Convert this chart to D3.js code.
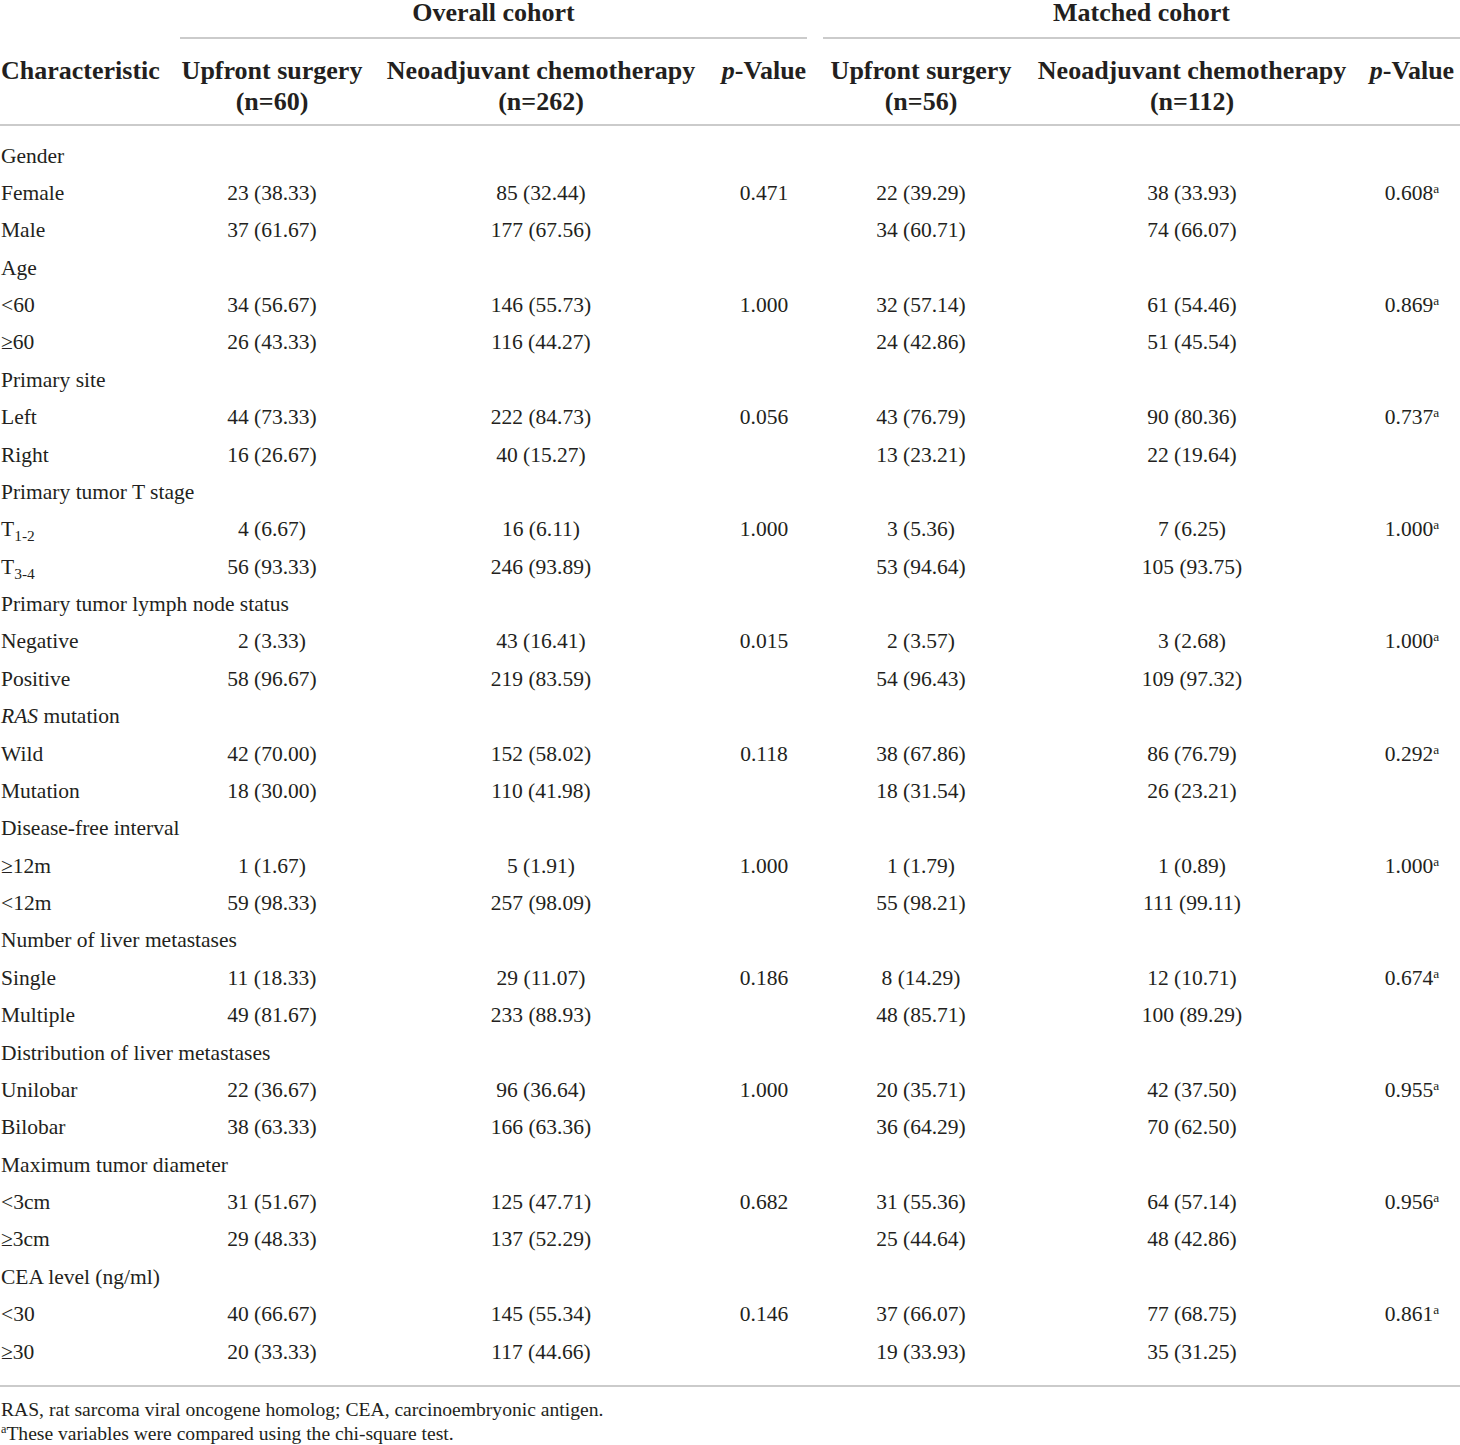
<!doctype html><html><head><meta charset="utf-8"></head><body style="margin:0;background:#fff"><script src='https://d3js.org/d3.v7.min.js'></script>

<style>
	svg text {
		fill: #231f20;
		font-family: "Liberation Serif", "Times New Roman", serif;
	}
	svg .head {
		font-size: 26px;
		font-weight: bold;
	}
	svg .cell {
		font-size: 21.5px;
	}
	svg .note {
		font-size: 19.6px;
	}
	svg line {
		stroke: #cbcbcb;
		stroke-width: 2;
	}
</style>

<script>
  // row labels: *x* italic, a|b subscript
  var labels = ["Gender", "Female", "Male", "Age", "<60", "\u226560", "Primary site", "Left", "Right",
    "Primary tumor T stage", "T|1-2", "T|3-4", "Primary tumor lymph node status", "Negative", "Positive",
    "*RAS* mutation", "Wild", "Mutation", "Disease-free interval", "\u226512m", "<12m",
    "Number of liver metastases", "Single", "Multiple", "Distribution of liver metastases", "Unilobar", "Bilobar",
    "Maximum tumor diameter", "<3cm", "\u22653cm", "CEA level (ng/ml)", "<30", "\u226530"];

  var upfrontOverall = ["", "23 (38.33)", "37 (61.67)", "", "34 (56.67)", "26 (43.33)", "", "44 (73.33)", "16 (26.67)",
    "", "4 (6.67)", "56 (93.33)", "", "2 (3.33)", "58 (96.67)", "", "42 (70.00)", "18 (30.00)", "", "1 (1.67)", "59 (98.33)",
    "", "11 (18.33)", "49 (81.67)", "", "22 (36.67)", "38 (63.33)", "", "31 (51.67)", "29 (48.33)", "", "40 (66.67)", "20 (33.33)"];
  var neoOverall = ["", "85 (32.44)", "177 (67.56)", "", "146 (55.73)", "116 (44.27)", "", "222 (84.73)", "40 (15.27)",
    "", "16 (6.11)", "246 (93.89)", "", "43 (16.41)", "219 (83.59)", "", "152 (58.02)", "110 (41.98)", "", "5 (1.91)", "257 (98.09)",
    "", "29 (11.07)", "233 (88.93)", "", "96 (36.64)", "166 (63.36)", "", "125 (47.71)", "137 (52.29)", "", "145 (55.34)", "117 (44.66)"];
  var pOverall = ["", "0.471", "", "", "1.000", "", "", "0.056", "", "", "1.000", "", "", "0.015", "", "", "0.118", "", "", "1.000", "",
    "", "0.186", "", "", "1.000", "", "", "0.682", "", "", "0.146", ""];
  var upfrontMatched = ["", "22 (39.29)", "34 (60.71)", "", "32 (57.14)", "24 (42.86)", "", "43 (76.79)", "13 (23.21)",
    "", "3 (5.36)", "53 (94.64)", "", "2 (3.57)", "54 (96.43)", "", "38 (67.86)", "18 (31.54)", "", "1 (1.79)", "55 (98.21)",
    "", "8 (14.29)", "48 (85.71)", "", "20 (35.71)", "36 (64.29)", "", "31 (55.36)", "25 (44.64)", "", "37 (66.07)", "19 (33.93)"];
  var neoMatched = ["", "38 (33.93)", "74 (66.07)", "", "61 (54.46)", "51 (45.54)", "", "90 (80.36)", "22 (19.64)",
    "", "7 (6.25)", "105 (93.75)", "", "3 (2.68)", "109 (97.32)", "", "86 (76.79)", "26 (23.21)", "", "1 (0.89)", "111 (99.11)",
    "", "12 (10.71)", "100 (89.29)", "", "42 (37.50)", "70 (62.50)", "", "64 (57.14)", "48 (42.86)", "", "77 (68.75)", "35 (31.25)"];
  var pMatched = ["", "0.608^a", "", "", "0.869^a", "", "", "0.737^a", "", "", "1.000^a", "", "", "1.000^a", "", "", "0.292^a", "", "", "1.000^a", "",
    "", "0.674^a", "", "", "0.955^a", "", "", "0.956^a", "", "", "0.861^a", ""];

  var groups = ["Overall cohort", "Matched cohort"];
  var colKeys = ["uo", "no", "po", "um", "nm", "pm"];
  var colHeads = [["Upfront surgery", "(n=60)"], ["Neoadjuvant chemotherapy", "(n=262)"], ["*p*-Value", ""],
    ["Upfront surgery", "(n=56)"], ["Neoadjuvant chemotherapy", "(n=112)"], ["*p*-Value", ""]];
  var notes = ["RAS, rat sarcoma viral oncogene homolog; CEA, carcinoembryonic antigen.",
    "^a^These variables were compared using the chi-square test."];

  var width = 1460, height = 1445;

  var x = d3.scaleOrdinal().domain(colKeys).range([272, 541, 764, 921, 1192, 1412]);
  var groupX = d3.scaleOrdinal().domain(groups).range([[180, 807], [823, 1460]]);
  var y = d3.scaleLinear().domain([0, labels.length - 1]).range([155, 1351]);

  var svg = d3.select("body").append("svg")
    .attr("width", width)
    .attr("height", height);

  // writes text with *italic*, |subscript and ^super^ markup
  function rich(sel, str) {
    if (str.indexOf("|") >= 0) {
      var parts = str.split("|");
      sel.append("tspan").text(parts[0]);
      sel.append("tspan").attr("font-size", "0.72em").attr("baseline-shift", "-0.3em").text(parts[1]);
      return;
    }
    var bits = str.split(/(\*[^*]+\*|\^[^^]+\^?)/).filter(function(b) { return b !== ""; });
    bits.forEach(function(b) {
      if (b[0] == "*") {
        sel.append("tspan").attr("font-style", "italic").text(b.slice(1, -1));
      } else if (b[0] == "^") {
        sel.append("tspan").attr("font-size", "0.62em").attr("baseline-shift", "0.55em").text(b.replace(/\^/g, ""));
      } else {
        sel.append("tspan").text(b);
      }
    });
  }

  // group headings
  svg.selectAll(".grp")
    .data(groups)
    .enter()
    .append("text")
    .attr("class", "head")
    .attr("x", function(d) { return d3.mean(groupX(d)); })
    .attr("y", 21)
    .attr("text-anchor", "middle")
    .text(function(d) { return d; });

  svg.selectAll(".grpline")
    .data(groups)
    .enter()
    .append("line")
    .attr("x1", function(d) { return groupX(d)[0]; })
    .attr("x2", function(d) { return groupX(d)[1]; })
    .attr("y1", 38)
    .attr("y2", 38);

  // column headings
  svg.append("text")
    .attr("class", "head")
    .attr("x", 1)
    .attr("y", 79)
    .text("Characteristic");

  colKeys.forEach(function(k, i) {
    colHeads[i].forEach(function(h, j) {
      if (h == "") return;
      var t = svg.append("text")
        .attr("class", "head")
        .attr("x", x(k))
        .attr("y", 79 + j * 31)
        .attr("text-anchor", "middle");
      rich(t, h);
    });
  });

  svg.append("line").attr("x1", 0).attr("x2", width).attr("y1", 125).attr("y2", 125);
  svg.append("line").attr("x1", 0).attr("x2", width).attr("y1", 1386).attr("y2", 1386);

  // body rows
  var cols = [upfrontOverall, neoOverall, pOverall, upfrontMatched, neoMatched, pMatched];

  var row = svg.selectAll(".row")
    .data(labels)
    .enter()
    .append("g")
    .attr("transform", function(d, i) { return "translate(0," + (y(i) + 7.5) + ")"; });

  row.append("text")
    .attr("class", "cell")
    .attr("x", 1)
    .each(function(d) { rich(d3.select(this), d); });

  cols.forEach(function(col, c) {
    row.filter(function(d, i) { return col[i] != ""; })
      .append("text")
      .attr("class", "cell")
      .attr("x", x(colKeys[c]))
      .attr("text-anchor", "middle")
      .each(function(d) { rich(d3.select(this), col[labels.indexOf(d)]); });
  });

  // footnotes
  svg.selectAll(".note")
    .data(notes)
    .enter()
    .append("text")
    .attr("class", "note")
    .attr("x", 1)
    .attr("y", function(d, i) { return 1416 + i * 24; })
    .each(function(d) { rich(d3.select(this), d); });

</script></body></html>
